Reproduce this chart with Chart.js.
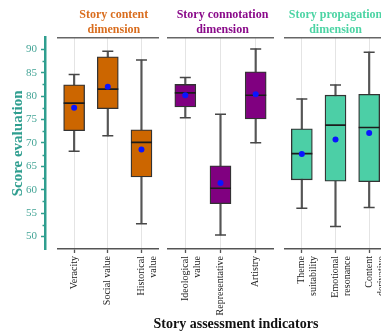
<!DOCTYPE html>
<html>
<head>
<meta charset="utf-8">
<script src="https://cdn.jsdelivr.net/npm/chart.js@4.4.1/dist/chart.umd.min.js"></script>
<style>
  html, body { margin: 0; padding: 0; width: 381px; height: 333px; overflow: hidden; background: #fff; }
  canvas { position: absolute; top: 0; }
  #xTitle { position: absolute; left: 0; width: 472px; top: 316px; line-height: 16px; text-align: center;
            font: bold 14px "Liberation Serif", serif; color: #111; white-space: nowrap; }
</style>
</head>
<body>
<canvas id="axis" width="50" height="333" style="left:0"></canvas>
<canvas id="content" width="121" height="333" style="left:52px"></canvas>
<canvas id="connotation" width="124" height="333" style="left:160px"></canvas>
<canvas id="propagation" width="116" height="333" style="left:278px"></canvas>
<div id="xTitle">Story assessment indicators</div>
<script>
// Indicator names (multi-line labels as arrays)
const indicators = [
  'Veracity', 'Social value', ['Historical', 'value'],
  ['Ideological', 'value'], 'Representative', 'Artistry',
  ['Theme', 'suitability'], ['Emotional', 'resonance'], ['Content', 'derivative']
];

// Box-plot statistics per indicator
const lowerWhisker  = [68.2, 71.5, 52.7, 75.4, 50.3, 70.0, 56.0, 52.1, 56.2];
const lowerQuartile = [72.6, 77.3, 62.7, 77.7, 57.0, 75.1, 62.1, 61.8, 61.7];
const medianScore   = [78.5, 81.5, 70.1, 80.7, 60.3, 80.2, 67.7, 73.8, 73.3];
const upperQuartile = [82.4, 88.4, 72.8, 82.5, 65.1, 85.2, 73.0, 80.2, 80.4];
const upperWhisker  = [84.6, 89.6, 87.7, 84.0, 76.1, 90.1, 79.4, 82.4, 89.4];
const meanScore     = [77.5, 82.0, 68.6, 80.2, 61.4, 80.4, 67.6, 70.7, 72.1];

// Dimension groups
const dimensionTitles = [
  ['Story content', 'dimension'],
  ['Story connotation', 'dimension'],
  ['Story propagation', 'dimension']
];
const dimensionRanges = [[0, 3], [3, 6], [6, 9]];

// Y axis ticks
const majorStep = 5;
const minorTickValues = [52.5, 57.5, 62.5, 67.5, 72.5, 77.5, 82.5, 87.5];

const SERIF = '"Liberation Serif", "Times New Roman", serif';
const TEAL = '#2f9e8f';
const Y_MIN = 47.3, Y_MAX = 92.5;
const boxFills = ['#CC6600', '#800080', '#4CCFA6'];
const titleFills = ['#D96D1E', '#8A0A8A', '#4CD4A4'];

Chart.defaults.font.family = SERIF;

// Shorter minor tick marks between the labelled ones
const minorTicks = {
  id: 'minorTicks',
  afterDraw(chart) {
    const s = chart.scales.y, ctx = chart.ctx;
    ctx.save();
    ctx.strokeStyle = TEAL;
    ctx.lineWidth = 1.5;
    for (const v of minorTickValues) {
      const y = Math.round(s.getPixelForValue(v)) + 0.5;
      ctx.beginPath();
      ctx.moveTo(s.right - 2.5, y);
      ctx.lineTo(s.right, y);
      ctx.stroke();
    }
    ctx.restore();
  }
};

// Shared value axis
new Chart(document.getElementById('axis'), {
  type: 'line',
  data: { labels: [], datasets: [] },
  options: {
    responsive: false, animation: false, events: [],
    layout: { autoPadding: false, padding: { top: 37.7, bottom: 84, left: 0, right: 0 } },
    plugins: { legend: { display: false }, tooltip: { enabled: false } },
    scales: {
      x: { display: false },
      y: {
        min: Y_MIN, max: Y_MAX,
        ticks: { stepSize: majorStep, includeBounds: false, color: '#45a597', padding: 4,
                 font: { family: SERIF, size: 11 } },
        grid: { drawOnChartArea: false, tickLength: 4, tickColor: TEAL, tickWidth: 1.5 },
        border: { color: TEAL, width: 2.5 },
        title: { display: true, text: 'Score evaluation', color: TEAL,
                 font: { family: SERIF, size: 15, weight: 'bold' }, padding: { top: 9, bottom: 0 } },
        afterFit(scale) { scale.width = 45; }
      }
    }
  },
  plugins: [minorTicks]
});

// titleGap: empty space reserved right of the plot so the heading sits a little to the right
function buildPanel(canvasId, g, padLeft, padRight, titleGap) {
  const [from, to] = dimensionRanges[g];
  const pick = arr => arr.slice(from, to);
  const labels = pick(indicators);
  const q1 = pick(lowerQuartile), q3 = pick(upperQuartile);
  const lo = pick(lowerWhisker), hi = pick(upperWhisker);

  const scales = {
    x: {
      type: 'category', offset: true,
      grid: { offset: false, color: '#e4e4e4', lineWidth: 1, tickColor: '#555',
              tickLength: 4, tickWidth: 1.3 },
      border: { color: '#555', width: 1.5 },
      ticks: { color: '#222', font: { family: SERIF, size: 10 }, maxRotation: 90,
               minRotation: 90, padding: 3, autoSkip: false },
      afterFit(scale) { scale.height = 75; scale.paddingLeft = 0; scale.paddingRight = 0; }
    },
    xTop: {
      type: 'category', position: 'top', offset: true,
      grid: { display: false, drawTicks: false }, ticks: { display: false },
      border: { color: '#666', width: 1.5 }
    },
    y: { type: 'linear', display: false, min: Y_MIN, max: Y_MAX }
  };
  if (titleGap > 0) {
    scales.gap = {
      type: 'linear', position: 'right', min: Y_MIN, max: Y_MAX,
      grid: { display: false, drawTicks: false }, ticks: { display: false },
      border: { display: false },
      afterFit(scale) { scale.width = titleGap; scale.paddingTop = 0; scale.paddingBottom = 0; }
    };
  }

  new Chart(document.getElementById(canvasId), {
    type: 'bar',
    data: {
      labels,
      datasets: [
        { type: 'line', data: pick(meanScore), showLine: false, pointStyle: 'circle',
          pointRadius: 3, pointBackgroundColor: '#0a14ff', pointBorderWidth: 0, order: 0 },
        { type: 'line', data: pick(medianScore), showLine: false, pointStyle: 'line',
          pointRadius: 10.5, pointBorderColor: '#1c1c1c', pointBorderWidth: 1.6, order: 1 },
        { type: 'line', data: hi, showLine: false, pointStyle: 'line',
          pointRadius: 5.5, pointBorderColor: '#474747', pointBorderWidth: 1.5, order: 2 },
        { type: 'line', data: lo, showLine: false, pointStyle: 'line',
          pointRadius: 5.5, pointBorderColor: '#474747', pointBorderWidth: 1.5, order: 2 },
        { type: 'bar', data: labels.map((_, i) => [q1[i], q3[i]]), backgroundColor: boxFills[g],
          borderColor: '#333', borderWidth: 1.3, borderSkipped: false, barThickness: 21,
          grouped: false, order: 3 },
        { type: 'bar', data: labels.map((_, i) => [lo[i], hi[i]]), backgroundColor: '#555',
          borderWidth: 0, barThickness: 1.5, grouped: false, order: 4 }
      ]
    },
    options: {
      responsive: false, animation: false, events: [],
      layout: { autoPadding: false, padding: { left: padLeft, right: padRight, top: 0, bottom: 9 } },
      plugins: {
        legend: { display: false }, tooltip: { enabled: false },
        title: { display: true, text: dimensionTitles[g], color: titleFills[g],
                 font: { family: SERIF, size: 12, weight: 'bold', lineHeight: 1.27 },
                 padding: { top: 7.2, bottom: 0 } }
      },
      scales
    }
  });
}

buildPanel('content', 0, 5.3, 2.7, 12);
buildPanel('connotation', 1, 7.7, 6.7, 4);
buildPanel('propagation', 2, 7, 8, 0);
</script>
</body>
</html>
